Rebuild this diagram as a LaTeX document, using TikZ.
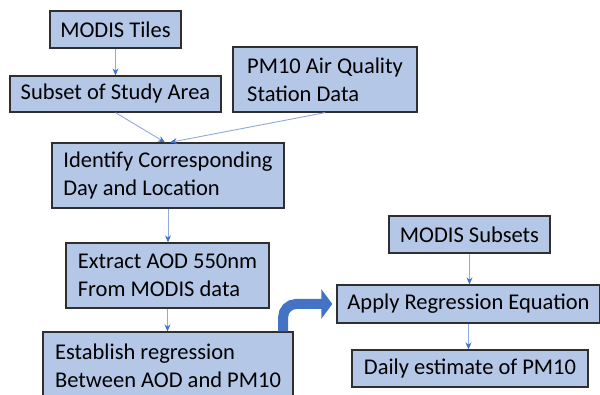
\documentclass[tikz,border=0pt]{standalone}
\usepackage{fontspec}
\setmainfont{Carlito}
\usetikzlibrary{arrows.meta,calc}
\definecolor{boxfill}{RGB}{180,199,231}
\definecolor{boxline}{RGB}{47,47,47}
\definecolor{connline}{RGB}{143,170,220}
\definecolor{accent}{RGB}{68,114,196}
\begin{document}
\begin{tikzpicture}[x=1pt,y=-1pt,
  flowbox/.style={draw=boxline,line width=1.3pt,fill=boxfill,align=left,
    inner xsep=0pt,inner ysep=0pt,
    font=\fontsize{22.5}{28}\selectfont},
  conn/.style={draw=connline,line width=0.9pt,
    -{Stealth[length=7pt,width=6pt,fill=accent,color=accent]}},
  bigarrow/.style={draw=accent,line width=10pt,rounded corners=13pt,
    -{Triangle[length=11pt,width=29pt]},shorten >=4pt}]
\useasboundingbox (0,0) rectangle (600,395);
\fill[white] (0,0) rectangle (600,395);
\node[flowbox,minimum width=131pt,minimum height=37pt] (tiles) at (115.5,29.5) {MODIS Tiles};
\node[flowbox,minimum width=211pt,minimum height=36pt] (subset) at (115.5,94) {Subset of Study Area};
\node[flowbox,minimum width=184pt,minimum height=65pt] (pm10) at (325,79.5) {PM10 Air Quality\\Station Data};
\node[flowbox,minimum width=232pt,minimum height=65pt] (identify) at (168,175.5) {Identify Corresponding\\Day and Location};
\node[flowbox,minimum width=203pt,minimum height=65pt] (extract) at (167.5,275.5) {Extract AOD 550nm\\From MODIS data};
\node[flowbox,minimum width=250pt,minimum height=68pt] (establish) at (168,366) {Establish regression\\Between AOD and PM10};
\node[flowbox,minimum width=161pt,minimum height=37pt] (subsets) at (469.5,234.5) {MODIS Subsets};
\node[flowbox,minimum width=263pt,minimum height=38pt] (apply) at (468.5,304) {Apply Regression Equation};
\node[flowbox,minimum width=236pt,minimum height=37pt] (daily) at (470,368.5) {Daily estimate of PM10};
\coordinate (idin) at ($(identify.north)+(-3,0)$);
\coordinate (idin2) at ($(identify.north)+(2,0)$);
\draw[conn] (tiles.south) -- (subset.north);
\draw[conn] (subset.south) -- (idin);
\draw[conn] (pm10.south) -- (idin2);
\draw[conn] (identify.south) -- (identify.south |- extract.north);
\draw[conn] (extract.south) -- (extract.south |- establish.north);
\draw[conn] (subsets.south) -- (subsets.south |- apply.north);
\draw[conn] (apply.south) -- (apply.south |- daily.north);
\coordinate (bstart) at ($(establish.north east)+(-10.5,0)$);
\draw[bigarrow] (bstart) |- (apply.west);
\end{tikzpicture}
\end{document}
